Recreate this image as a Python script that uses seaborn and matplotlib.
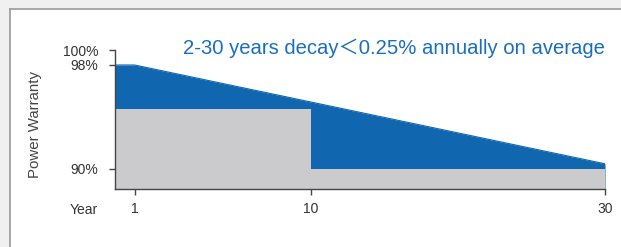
import numpy as np
import matplotlib
matplotlib.use("Agg")
import matplotlib.pyplot as plt
import seaborn as sns
import pandas as pd

# ---- data ----
years = [0, 1, 10, 30]
warranty = [98.0, 98.0, 95.15, 90.4]
step_years = [0, 10, 30]
step_values = [94.6, 90.0, 90.0]
y_ticks = [90, 98, 100]
y_tick_labels = ["90%", "98%", "100%"]
x_ticks = [1, 10, 30]
x_tick_labels = ["1", "10", "30"]
title = "2-30 years decay\uff1c0.25% annually on average"

BLUE = "#1166b0"
GRAY = "#cbcbcd"

sns.set_theme(style="white")
plt.rcParams['font.family'] = ['Liberation Sans', 'Noto Sans CJK SC', 'DejaVu Sans']

W, H = 621, 247
fig = plt.figure(figsize=(W / 100, H / 100), dpi=100)
fig.patch.set_facecolor("#f0f0f0")

# white panel with a gray border on the left and top (extends past right/bottom edges)
bg = fig.add_axes([10 / W, -0.1, 1.0, 1 - 9 / H + 0.1])
bg.set_zorder(0)
bg.set_facecolor("white")
bg.set_xticks([])
bg.set_yticks([])
for s in ["right", "bottom"]:
    bg.spines[s].set_visible(False)
for s in ["left", "top"]:
    bg.spines[s].set_visible(True)
    bg.spines[s].set_color("#9a9a9a")
    bg.spines[s].set_linewidth(1.2)

ax = fig.add_axes([115 / W, (H - 189) / H, 490 / W, (189 - 50) / H])
ax.set_zorder(2)
ax.patch.set_alpha(0)

# piecewise schematic scales
xf_pts = [0, 10, 30]
xp_pts = [0, 196, 490]
yf_pts = [80, 90, 98, 100, 110]
yp_pts = [-130, 0, 104, 119, 194]
ax.set_xscale('function', functions=(lambda v: np.interp(v, xf_pts, xp_pts),
                                     lambda v: np.interp(v, xp_pts, xf_pts)))
ax.set_yscale('function', functions=(lambda v: np.interp(v, yf_pts, yp_pts),
                                     lambda v: np.interp(v, yp_pts, yf_pts)))

ymin = 88.46
df = pd.DataFrame({"year": years, "warranty": warranty})
ax.fill_between(years, ymin, warranty, color=BLUE, linewidth=0, zorder=1)
sns.lineplot(data=df, x="year", y="warranty", ax=ax, color=BLUE, linewidth=0.8, zorder=2)
ax.fill_between(step_years, ymin, step_values, step='post', color=GRAY, linewidth=0, zorder=3)

ax.set_xlim(0, 30)
ax.set_ylim(ymin, 100)
ax.set_xticks(x_ticks)
ax.set_xticklabels(x_tick_labels)
ax.set_yticks(y_ticks)
ax.set_yticklabels(y_tick_labels)
ax.set_xlabel("")
ax.set_ylabel("")

for s in ["top", "right"]:
    ax.spines[s].set_visible(False)
for s in ["left", "bottom"]:
    ax.spines[s].set_visible(True)
    ax.spines[s].set_color("#444444")
    ax.spines[s].set_linewidth(1.0)
    ax.spines[s].set_zorder(5)
ax.tick_params(axis='both', which='major', direction='out', length=4.5, width=1.0,
               color="#444444", labelcolor="#333333", labelsize=10, left=True, bottom=True)
ax.tick_params(axis='y', pad=7.5)
ax.tick_params(axis='x', pad=5)

fig.text(98 / W, 1 - 210 / H, "Year", ha='right', va='center', fontsize=10, color="#333333",
         zorder=3)
fig.text(35 / W, 1 - 124 / H, "Power Warranty", rotation=90, ha='center', va='center',
         fontsize=10.8, color="#444444", zorder=3)
fig.text(183 / W, 1 - 48 / H, title, ha='left', va='center', fontsize=14.6, color="#1a6ec0",
         zorder=3)

fig.savefig("out.png", dpi=100, facecolor=fig.get_facecolor())
